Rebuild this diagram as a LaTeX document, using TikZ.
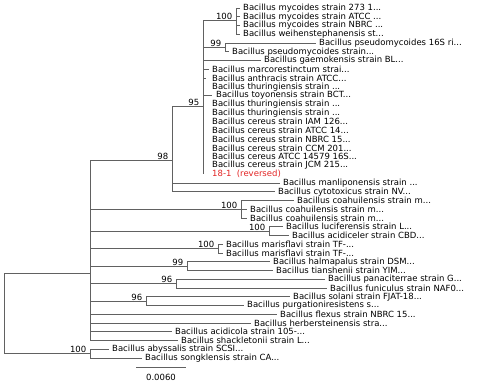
\documentclass[tikz,border=0pt]{standalone}
\usepackage{fontspec}
\setmainfont{DejaVu Sans}
\usepackage{xcolor}
\usepackage{tikz}

\definecolor{revred}{RGB}{226,36,36}

\begin{document}
\begin{tikzpicture}[x=1pt, y=-8.75pt,
		br/.style={draw=black!62, line width=0.7pt},
		leaf/.style={anchor=west, inner xsep=3pt, inner ysep=0pt, font=\fontsize{8.5}{8.5}\selectfont},
		nolen/.style={leaf, inner xsep=9pt},
		boot/.style={anchor=south east, inner sep=0.5pt, xshift=-3pt, font=\fontsize{8.5}{8.5}\selectfont}]
			\useasboundingbox (0,0.0857) rectangle (477,43.857);
			% inner nodes of the tree
			\coordinate (root) at (4,35.9);
			\coordinate (b) at (90,31.29);
			\coordinate (n98) at (172,18.37);
			\coordinate (n95) at (203,12.2);
			\coordinate (m100) at (236,2.4);
			\coordinate (p99) at (225,5.5);
			\coordinate (c100) at (241,24);
			\coordinate (l100) at (269,26.5);
			\coordinate (mf100) at (218,28.5);
			\coordinate (h99) at (187,30.5);
			\coordinate (pf96) at (176,32.5);
			\coordinate (sp96) at (146,34.5);
			\coordinate (a100) at (90,40.5);
			\node[boot] (t98) at (n98) {98};
			\node[boot] (t95) at (n95) {95};
			\node[boot] (tm) at (m100) {100};
			\node[boot] (tp) at (p99) {99};
			\node[boot] (tc) at (c100) {100};
			\node[boot] (tl) at (l100) {100};
			\node[boot] (tmf) at (mf100) {100};
			\node[boot] (th) at (h99) {99};
			\node[boot] (tpf) at (pf96) {96};
			\node[boot] (tsp) at (sp96) {96};
			\node[boot] (ta) at (a100) {100};
			% leaves
			\node[leaf] (l1) at (240,1) {Bacillus mycoides strain 273 1...};
			\node[leaf] (l2) at (240,2) {Bacillus mycoides strain ATCC ...};
			\node[leaf] (l3) at (240,3) {Bacillus mycoides strain NBRC ...};
			\node[leaf] (l4) at (240,4) {Bacillus weihenstephanensis st...};
			\node[leaf] (l5) at (316,5) {Bacillus pseudomycoides 16S ri...};
			\node[leaf] (l6) at (229,6) {Bacillus pseudomycoides strain...};
			\node[leaf] (l7) at (261,7) {Bacillus gaemokensis strain BL...};
			\node[leaf] (l8) at (209,8) {Bacillus marcorestinctum strai...};
			\node[leaf, inner xsep=6pt] (l9) at (206,9) {Bacillus anthracis strain ATCC...};
			\node[nolen] (l10) at (203,10) {Bacillus thuringiensis strain ...};
			\node[leaf, inner xsep=4pt] (l11) at (212,11) {Bacillus toyonensis strain BCT...};
			\node[nolen] (l12) at (203,12) {Bacillus thuringiensis strain ...};
			\node[nolen] (l13) at (203,13) {Bacillus thuringiensis strain ...};
			\node[nolen] (l14) at (203,14) {Bacillus cereus strain IAM 126...};
			\node[nolen] (l15) at (203,15) {Bacillus cereus strain ATCC 14...};
			\node[nolen] (l16) at (203,16) {Bacillus cereus strain NBRC 15...};
			\node[nolen] (l17) at (203,17) {Bacillus cereus strain CCM 201...};
			\node[nolen] (l18) at (203,18) {Bacillus cereus ATCC 14579 16S...};
			\node[nolen] (l19) at (203,19) {Bacillus cereus strain JCM 215...};
			\node[nolen, text=revred] (l20) at (203,20) {18-1\ \ (reversed)};
			\node[leaf] (l21) at (280,21) {Bacillus manliponensis strain ...};
			\node[leaf] (l22) at (275,22) {Bacillus cytotoxicus strain NV...};
			\node[leaf] (l23) at (294,23) {Bacillus coahuilensis strain m...};
			\node[leaf] (l24) at (247,24) {Bacillus coahuilensis strain m...};
			\node[leaf] (l25) at (247,25) {Bacillus coahuilensis strain m...};
			\node[leaf] (l26) at (283,26) {Bacillus luciferensis strain L...};
			\node[leaf] (l27) at (289,27) {Bacillus acidiceler strain CBD...};
			\node[leaf] (l28) at (223,28) {Bacillus marisflavi strain TF-...};
			\node[leaf] (l29) at (223,29) {Bacillus marisflavi strain TF-...};
			\node[leaf] (l30) at (270,30) {Bacillus halmapalus strain DSM...};
			\node[leaf] (l31) at (273,31) {Bacillus tianshenii strain YIM...};
			\node[leaf] (l32) at (325,32) {Bacillus panaciterrae strain G...};
			\node[leaf] (l33) at (327,33) {Bacillus funiculus strain NAF0...};
			\node[leaf] (l34) at (290,34) {Bacillus solani strain FJAT-18...};
			\node[leaf] (l35) at (244,35) {Bacillus purgationiresistens s...};
			\node[leaf] (l36) at (277,36) {Bacillus flexus strain NBRC 15...};
			\node[leaf] (l37) at (251,37) {Bacillus herbersteinensis stra...};
			\node[leaf] (l38) at (172,38) {Bacillus acidicola strain 105-...};
			\node[leaf] (l39) at (178,39) {Bacillus shackletonii strain L...};
			\node[leaf] (l40) at (109,40) {Bacillus abyssalis strain SCSI...};
			\node[leaf] (l41) at (142,41) {Bacillus songklensis strain CA...};
			% branches
			\draw[br] (root) |- (b);
			\draw[br] (root) |- (a100);
			\draw[br] (b) |- (n98);
			\draw[br] (b) |- (c100);
			\draw[br] (b) |- (l100);
			\draw[br] (b) |- (mf100);
			\draw[br] (b) |- (h99);
			\draw[br] (b) |- (pf96);
			\draw[br] (b) |- (sp96);
			\draw[br] (b) |- (l36);
			\draw[br] (b) |- (l37);
			\draw[br] (b) |- (l38);
			\draw[br] (b) |- (l39);
			\draw[br] (n98) |- (n95);
			\draw[br] (n98) |- (l21);
			\draw[br] (n98) |- (l22);
			\draw[br] (n95) |- (m100);
			\draw[br] (n95) |- (p99);
			\draw[br] (n95) |- (l7);
			\draw[br] (n95) |- (l8);
			\draw[br] (n95) |- (l9);
			\draw[br] (n95) |- (l11);
			\draw[br] (n95) |- (l20);
			\draw[br] (m100) |- (l1);
			\draw[br] (m100) |- (l2);
			\draw[br] (m100) |- (l3);
			\draw[br] (m100) |- (l4);
			\draw[br] (p99) |- (l5);
			\draw[br] (p99) |- (l6);
			\draw[br] (c100) |- (l23);
			\draw[br] (c100) |- (l24);
			\draw[br] (c100) |- (l25);
			\draw[br] (l100) |- (l26);
			\draw[br] (l100) |- (l27);
			\draw[br] (mf100) |- (l28);
			\draw[br] (mf100) |- (l29);
			\draw[br] (h99) |- (l30);
			\draw[br] (h99) |- (l31);
			\draw[br] (pf96) |- (l32);
			\draw[br] (pf96) |- (l33);
			\draw[br] (sp96) |- (l34);
			\draw[br] (sp96) |- (l35);
			\draw[br] (a100) |- (l40);
			\draw[br] (a100) |- (l41);
			% scale bar
			\coordinate (sb1) at (136,42.03);
			\coordinate (sb2) at (186,42.03);
			\draw[br] (sb1) -- (sb2);
			\node[leaf, anchor=center] (sbt) at (161,43.25) {0.0060};
		\end{tikzpicture}
\end{document}
